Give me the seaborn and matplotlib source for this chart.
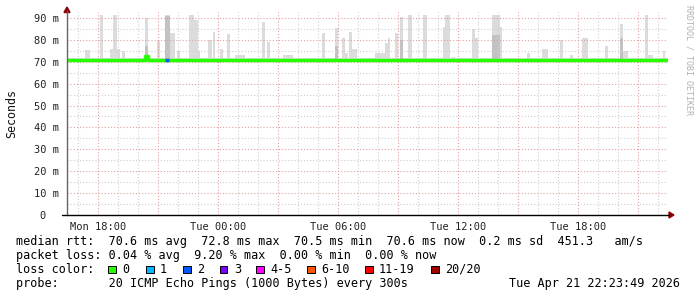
import matplotlib
matplotlib.use("Agg")
import matplotlib.pyplot as plt
import seaborn as sns
import pandas as pd
from matplotlib.lines import Line2D
from matplotlib.patches import Rectangle, Polygon

# ---------------- data ----------------
# time in hours from Mon 00:00
x_start_hour = 16.45
x_end_hour = 46.5
tick_hours = [18, 24, 30, 36, 42]
tick_labels = ["Mon 18:00", "Tue 00:00", "Tue 06:00", "Tue 12:00", "Tue 18:00"]
y_ticks = [0, 10, 20, 30, 40, 50, 60, 70, 80, 90]
y_labels = ["0  ", "10 m", "20 m", "30 m", "40 m", "50 m", "60 m", "70 m", "80 m", "90 m"]

# smoke (spread of the 20 pings), ms
smoke_floor = 69.9
smoke_base_top = 71.6
spike_start = [17.35, 18.1, 18.6, 18.75, 19.2, 20.35, 20.95, 21.35, 21.6, 21.95,
               22.55, 22.8, 23.0, 23.5, 23.75, 24.1, 24.45, 24.85, 26.2, 26.45,
               27.25, 29.2, 29.85, 30.2, 30.35, 30.55, 30.7, 31.85, 32.35, 32.5,
               32.85, 33.1, 33.5, 34.25, 35.25, 35.35, 35.7, 36.7, 36.85, 37.7,
               38.1, 39.45, 40.2, 41.1, 41.6, 42.2, 43.35, 44.1, 44.25, 45.35,
               45.5, 46.25]
spike_width = [0.25, 0.17, 0.5, 0.2, 0.15, 0.17, 0.17, 0.25, 0.25, 0.15,
               0.25, 0.2, 0.1, 0.2, 0.1, 0.15, 0.15, 0.5, 0.15, 0.15,
               0.5, 0.15, 0.15, 0.15, 0.15, 0.15, 0.25, 0.5, 0.15, 0.1,
               0.15, 0.15, 0.2, 0.2, 0.1, 0.25, 0.15, 0.15, 0.15, 0.4,
               0.1, 0.15, 0.3, 0.15, 0.15, 0.3, 0.15, 0.15, 0.25, 0.15,
               0.25, 0.1]
spike_top = [75.3, 91.5, 76.0, 91.5, 75.0, 90.0, 80.0, 91.5, 83.0, 75.0,
             91.5, 89.0, 75.0, 80.0, 83.5, 76.0, 82.7, 73.0, 88.0, 79.0,
             73.0, 83.0, 85.5, 81.0, 74.0, 83.6, 76.0, 74.0, 78.6, 81.0,
             83.0, 90.5, 91.5, 91.5, 86.0, 91.5, 72.0, 85.0, 81.0, 91.5,
             86.0, 74.0, 76.0, 80.0, 73.0, 81.0, 77.0, 87.0, 75.0, 91.5,
             73.0, 75.0]
spike_mid = [0, 0, 0, 0, 0, 77.0, 0, 91.0, 0, 0,
             0, 0, 0, 0, 0, 0, 0, 0, 0, 0,
             0, 0, 77.0, 0, 0, 0, 0, 0, 0, 0,
             0, 80.0, 0, 0, 0, 0, 0, 0, 0, 82.0,
             0, 0, 0, 0, 0, 0, 0, 81.0, 0, 0,
             0, 0]

# median rtt (step line), ms
median_hours = [16.45, 20.35, 20.5, 46.5]
median_ms = [70.7, 72.8, 70.6, 70.6]

# packet loss events
loss_start = [21.35]
loss_end = [21.55]
loss_pings = [2]

loss_names = ["0", "1", "2", "3", "4-5", "6-10", "11-19", "20/20"]
loss_colors = ["#26ff00", "#00b8ff", "#0059ff", "#7e00ff", "#ff00ff",
               "#ff5500", "#ff0000", "#a10000"]

stats_lines = [
    "median rtt:  70.6 ms avg  72.8 ms max  70.5 ms min  70.6 ms now  0.2 ms sd  451.3   am/s",
    "packet loss: 0.04 % avg  9.20 % max  0.00 % min  0.00 % now",
]
probe_text = "probe:       20 ICMP Echo Pings (1000 Bytes) every 300s"
stamp_text = "Tue Apr 21 22:23:49 2026"
watermark = "RRDTOOL / TOBI OETIKER"

# ---------------- drawing ----------------
sns.set_style("white")
MONO = ["DejaVu Sans Mono"]
plt.rcParams["font.family"] = MONO

W, H = 697, 297
fig = plt.figure(figsize=(W / 100, H / 100), dpi=100)
fig.patch.set_facecolor("white")


def fx(x):
    return x / W


def fy(y):
    return 1 - y / H


ax = fig.add_axes([fx(67), fy(215), (668 - 67) / W, (215 - 12) / H])
ax.set_facecolor("white")
ax.set_xlim(x_start_hour, x_end_hour)
ax.set_ylim(0, 92.7)

# base smoke band
ax.fill_between([x_start_hour, x_end_hour], smoke_floor, smoke_base_top,
                color="#dddddd", lw=0, zorder=1)
# spikes
ax.bar(spike_start, [t - smoke_floor for t in spike_top], width=spike_width,
       bottom=smoke_floor, align="edge", color="#dcdcdc", lw=0, zorder=1)
mids = [(s, w, m) for s, w, m in zip(spike_start, spike_width, spike_mid) if m > 0]
ax.bar([m[0] for m in mids], [m[2] - smoke_floor for m in mids],
       width=[m[1] for m in mids], bottom=smoke_floor, align="edge",
       color="#c2c2c2", lw=0, zorder=1.1)

# grid (drawn above smoke, as rrdtool does)
minor_c = "#cfcfcf"
major_c = "#e4a0a0"
ls = (0, (1, 1.8))
h = int(x_start_hour) + 1
while h < x_end_hour:
    c = major_c if h % 3 == 0 else minor_c
    ax.axvline(h, color=c, lw=0.8, ls=ls, zorder=2)
    h += 1
for v in range(5, 93, 5):
    c = major_c if v % 10 == 0 else minor_c
    ax.axhline(v, color=c, lw=0.8, ls=ls, zorder=2)

# median line
df = pd.DataFrame({"hour": median_hours, "ms": median_ms})
sns.lineplot(data=df, x="hour", y="ms", ax=ax, color=loss_colors[0],
             lw=2.5, drawstyle="steps-post", estimator=None, zorder=5)
for s, e, p in zip(loss_start, loss_end, loss_pings):
    idx = 0 if p == 0 else (1 if p == 1 else (2 if p == 2 else (3 if p == 3 else
          (4 if p <= 5 else (5 if p <= 10 else (6 if p <= 19 else 7))))))
    val = [m for hh, m in zip(median_hours, median_ms) if hh <= s][-1]
    ax.plot([s, e], [val, val], color=loss_colors[idx], lw=2.5,
            solid_capstyle="butt", zorder=6)

ax.set_xlabel("")
ax.set_ylabel("")
for sp in ax.spines.values():
    sp.set_visible(False)
ax.set_xticks(tick_hours)
ax.set_xticklabels(tick_labels, fontsize=7.5, color="#222222")
ax.set_yticks(y_ticks)
ax.set_yticklabels(y_labels, fontsize=7.5, color="#222222")
ax.tick_params(axis="x", length=0, pad=5)
ax.tick_params(axis="y", length=0, pad=6)

# axis lines and arrows
fig.add_artist(Line2D([fx(67), fx(67)], [fy(215), fy(11)], color="#666666", lw=1))
fig.add_artist(Line2D([fx(62), fx(669)], [fy(215), fy(215)], color="#000000", lw=1))
fig.add_artist(Polygon([(fx(64), fy(12.5)), (fx(70), fy(12.5)), (fx(67), fy(7))],
                       closed=True, color="#8b0000", transform=fig.transFigure))
fig.add_artist(Polygon([(fx(669), fy(212), ), (fx(669), fy(218)), (fx(674), fy(215))],
                       closed=True, color="#8b0000", transform=fig.transFigure))

# axis title & watermark
fig.text(fx(12), fy(113.5), "Seconds", rotation=90, ha="center", va="center",
         fontsize=8.4, color="#111111")
fig.text(fx(689), fy(60), watermark, rotation=270, ha="center", va="center",
         fontsize=6, color="#b0b0b0")

# legend text
FS = 8.5
fig.text(fx(16), fy(245), stats_lines[0], fontsize=FS, va="baseline", color="#000000")
fig.text(fx(16), fy(259), stats_lines[1], fontsize=FS, va="baseline", color="#000000")
fig.text(fx(16), fy(273), "loss color:", fontsize=FS, va="baseline", color="#000000")
fig.text(fx(16), fy(287), probe_text, fontsize=FS, va="baseline", color="#000000")
fig.text(fx(680), fy(287), stamp_text, fontsize=FS, va="baseline", ha="right",
         color="#000000")

square_x = [108, 146, 183, 220, 256, 307, 365, 431]
for sx, name, col in zip(square_x, loss_names, loss_colors):
    fig.add_artist(Rectangle((fx(sx), fy(273)), 7.5 / W, 7.5 / H, facecolor=col,
                             edgecolor="#000000", lw=0.7, transform=fig.transFigure))
    fig.text(fx(sx + 14), fy(273), name, fontsize=FS, va="baseline", color="#000000")

fig.savefig("out.png", dpi=100, facecolor="white")
